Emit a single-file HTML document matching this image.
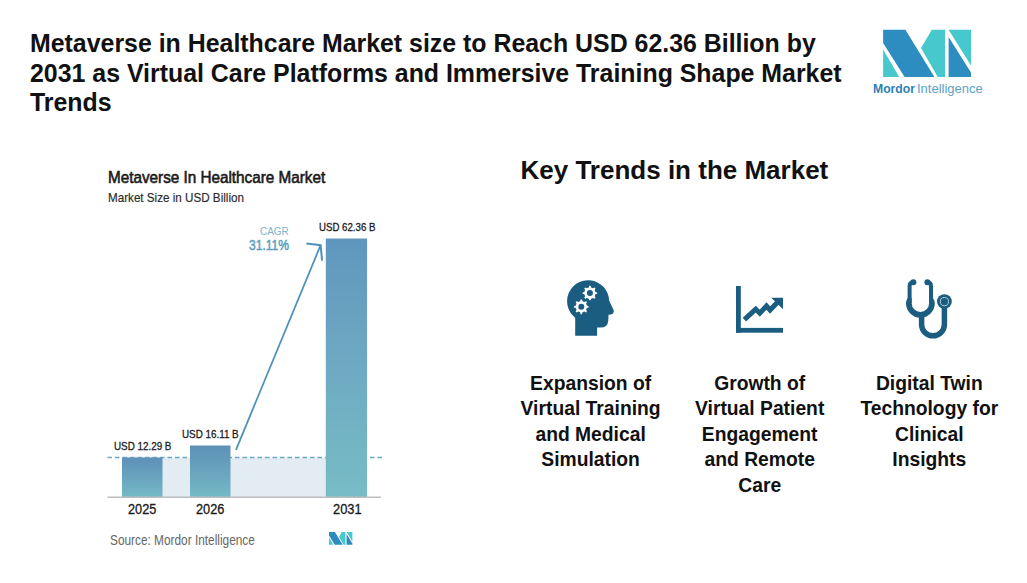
<!DOCTYPE html>
<html><head><meta charset="utf-8">
<style>
html,body{margin:0;padding:0;background:#fff;}
body{width:1027px;height:583px;position:relative;overflow:hidden;font-family:"Liberation Sans",sans-serif;color:#111;}
.abs{position:absolute;white-space:nowrap;}
#title{left:30px;top:29px;font-size:24.9px;font-weight:bold;line-height:29.6px;color:#111;}
#kt{left:520.5px;top:154.5px;font-size:26px;font-weight:bold;line-height:30px;color:#111;}
.trend{position:absolute;top:371px;width:200px;text-align:center;font-size:19.3px;font-weight:bold;line-height:25.4px;color:#111;}
.ct{font-weight:normal;font-size:16.5px;color:#1a1a1a;transform-origin:0 0;-webkit-text-stroke:0.6px #1a1a1a;}
.cs{font-size:13px;color:#2a2a2a;transform-origin:0 0;-webkit-text-stroke:0.15px #2a2a2a;}
.lbl{font-size:11.5px;color:#1a1a1a;transform-origin:0 0;-webkit-text-stroke:0.3px #1a1a1a;}
.yr{font-size:14px;color:#1a1a1a;transform-origin:0 0;-webkit-text-stroke:0.3px #1a1a1a;}
svg.abs{left:0;top:0;}
</style></head>
<body>
<div id="title" class="abs">Metaverse in Healthcare Market size to Reach USD 62.36 Billion by<br>2031 as Virtual Care Platforms and Immersive Training Shape Market<br>Trends</div>

<!-- logo -->
<svg class="abs" width="1027" height="583" viewBox="0 0 1027 583">
  <polygon points="883.1,29.7 905.4,29.7 934.4,77 904.6,77 883.1,43.1" fill="#2d8cc0"/>
  <polygon points="883.1,49.6 883.1,77 899.2,77" fill="#46c8cc"/>
  <polygon points="931.8,29.7 945,29.7 945,77 937.8,77 921,48" fill="#46c8cc"/>
  <polygon points="948.6,29.7 971,29.7 971,65.6" fill="#46c8cc"/>
  <polygon points="948.6,37 971,72.6 971,77 948.6,77" fill="#2d8cc0"/>
</svg>
<div class="abs" style="left:873px;top:82px;font-size:13px;line-height:14px;"><span style="font-weight:bold;color:#2f7fb5;font-size:12.2px">Mordor</span><span style="color:#5aa3c9;margin-left:2px;">Intelligence</span></div>

<!-- chart -->
<div class="abs ct" style="left:108px;top:168px;line-height:18px;transform:scaleX(0.925)">Metaverse In Healthcare Market</div>
<div class="abs cs" style="left:108px;top:190.5px;line-height:14px;transform:scaleX(0.896)">Market Size in USD Billion</div>

<svg class="abs" width="1027" height="583" viewBox="0 0 1027 583">
  <defs>
    <linearGradient id="g1" x1="0" y1="0" x2="0" y2="1">
      <stop offset="0" stop-color="#5d90b8"/>
      <stop offset="1" stop-color="#74b9c5"/>
    </linearGradient>
    <linearGradient id="g3" x1="0" y1="0" x2="0" y2="1">
      <stop offset="0" stop-color="#6096bd"/>
      <stop offset="0.5" stop-color="#6eaac3"/>
      <stop offset="1" stop-color="#77bcc5"/>
    </linearGradient>
  </defs>
  <rect x="122" y="457.5" width="204" height="39.5" fill="#e3ebf3"/>
  <line x1="107.5" y1="457.5" x2="383" y2="457.5" stroke="#6aaac4" stroke-width="1.5" stroke-dasharray="4.5 3"/>
  <rect x="122" y="457.5" width="40.5" height="39.5" fill="url(#g1)"/>
  <rect x="190" y="445.5" width="40.5" height="51.5" fill="url(#g1)"/>
  <rect x="325.8" y="238.5" width="41.3" height="258.5" fill="url(#g3)"/>
  <line x1="107.5" y1="497.3" x2="381" y2="497.3" stroke="#bdbdbd" stroke-width="1.5"/>
  <line x1="236" y1="449.8" x2="320.6" y2="245.2" stroke="#4f92ba" stroke-width="1.8"/>
  <polyline points="306.3,243.6 320.6,245.2 322.1,260.6" fill="none" stroke="#4f92ba" stroke-width="2"/>
  <!-- small logo -->
  <g transform="translate(329,531.9) scale(0.266,0.27)">
    <polygon points="0,0 22.3,0 51.3,47.3 21.5,47.3 0,13.4" fill="#2e8bc0"/>
    <polygon points="0,19.9 0,47.3 16.1,47.3" fill="#46c8cc"/>
    <polygon points="48.7,0 61.9,0 61.9,47.3 54.7,47.3 37.9,18.3" fill="#46c8cc"/>
    <polygon points="66.1,0 87.9,0 87.9,35.4" fill="#46c8cc"/>
    <polygon points="66.1,7.5 87.9,43.2 87.9,47.3 66.1,47.3" fill="#2e8bc0"/>
  </g>
</svg>
<div class="abs lbl" style="left:114px;top:440px;line-height:13px;transform:scaleX(0.855)">USD 12.29 B</div>
<div class="abs lbl" style="left:182px;top:428px;line-height:13px;transform:scaleX(0.855)">USD 16.11 B</div>
<div class="abs lbl" style="left:318.5px;top:221px;line-height:13px;transform:scaleX(0.84)">USD 62.36 B</div>
<div class="abs" style="left:259.6px;top:224.5px;font-size:10.5px;line-height:13px;color:#7db4cc;transform-origin:0 0;transform:scaleX(0.95)">CAGR</div>
<div class="abs" style="left:248.7px;top:237px;font-size:14px;line-height:16px;color:#5a9ec0;-webkit-text-stroke:0.5px #5a9ec0;transform-origin:0 0;transform:scaleX(0.86)">31.11%</div>
<div class="abs yr" style="left:128px;top:501px;line-height:16px;transform:scaleX(0.91)">2025</div>
<div class="abs yr" style="left:196px;top:501px;line-height:16px;transform:scaleX(0.91)">2026</div>
<div class="abs yr" style="left:332.6px;top:501px;line-height:16px;transform:scaleX(0.92)">2031</div>
<div class="abs" style="left:110px;top:531.5px;font-size:14px;line-height:16px;color:#666;transform-origin:0 0;transform:scaleX(0.846)">Source: Mordor Intelligence</div>

<!-- key trends -->
<div id="kt" class="abs">Key Trends in the Market</div>

<svg class="abs" width="1027" height="583" viewBox="0 0 1027 583">
  <!-- head -->
  <path fill="#1a5d80" d="M575.2,335.8 L575.2,317.8 A21,21 0 1 1 609.1,300.5 L613.7,310.2 Q614.3,313.8 610.9,314.4 L608.5,314.8 L608.3,320.5 Q607.8,327.6 600.4,327.6 L597.1,327.6 L597.1,335.8 Z"/>
  <path fill="#fff" d="M595.47,291.88 L597.17,292.47 L597.17,293.73 L595.47,294.32 L594.70,296.17 L595.49,297.80 L594.60,298.69 L592.97,297.90 L591.12,298.67 L590.53,300.37 L589.27,300.37 L588.68,298.67 L586.83,297.90 L585.20,298.69 L584.31,297.80 L585.10,296.17 L584.33,294.32 L582.63,293.73 L582.63,292.47 L584.33,291.88 L585.10,290.03 L584.31,288.40 L585.20,287.51 L586.83,288.30 L588.68,287.53 L589.27,285.83 L590.53,285.83 L591.12,287.53 L592.97,288.30 L594.60,287.51 L595.49,288.40 L594.70,290.03Z"/>
<path fill="#fff" d="M586.87,305.58 L588.67,306.16 L588.67,307.44 L586.87,308.02 L586.10,309.87 L586.96,311.56 L586.06,312.46 L584.37,311.60 L582.52,312.37 L581.94,314.17 L580.66,314.17 L580.08,312.37 L578.23,311.60 L576.54,312.46 L575.64,311.56 L576.50,309.87 L575.73,308.02 L573.93,307.44 L573.93,306.16 L575.73,305.58 L576.50,303.73 L575.64,302.04 L576.54,301.14 L578.23,302.00 L580.08,301.23 L580.66,299.43 L581.94,299.43 L582.52,301.23 L584.37,302.00 L586.06,301.14 L586.96,302.04 L586.10,303.73Z"/>

  <circle cx="589.9" cy="293.1" r="3" fill="#1a5d80"/>
  <circle cx="581.3" cy="306.8" r="3" fill="#1a5d80"/>
  <!-- chart icon -->
  <g fill="#1a5d80">
    <rect x="736" y="286" width="4.8" height="46.7"/>
    <rect x="736" y="327.9" width="47" height="4.8"/>
    <polygon points="771.2,297.7 783,297.7 783,309.3"/>
  </g>
  <polyline points="744.4,319.6 755.7,309.1 759.8,313.2 766.5,306 770.1,310.1 778.5,301.3" fill="none" stroke="#1a5d80" stroke-width="5" stroke-linejoin="miter" stroke-miterlimit="10"/>
  <!-- stethoscope -->
  <g fill="none" stroke="#1a5d80">
    <path d="M913.4,282.2 Q909.6,282.2 909.6,286 L909.6,303" stroke-width="4"/>
    <path d="M927.4,282.2 Q931,282.2 931,286 L931,303" stroke-width="4"/>
    <path d="M921.6,315 L921.6,324.45 A11.4,11.4 0 0 0 944.4,324.45 L944.4,305" stroke-width="5.5"/>
  </g>
  <g fill="#1a5d80">
    <circle cx="913.4" cy="282.2" r="3"/>
    <circle cx="927.4" cy="282.2" r="3"/>
    <path d="M907.6,298 Q906,301 906,303.2 A14.4,14.4 0 0 0 934.8,303.2 Q934.8,301 933,298 L929,298 L929.1,303.2 A8.7,8.7 0 0 1 911.7,303.2 L911.6,298 Z"/>
    <circle cx="944.4" cy="301.6" r="7.4"/>
  </g>
  <circle cx="944.4" cy="301.6" r="4.1" fill="none" stroke="#d8e6ee" stroke-width="0.8"/>
</svg>

<div class="trend" style="left:490.6px">Expansion of<br>Virtual Training<br>and Medical<br>Simulation</div>
<div class="trend" style="left:659.7px">Growth of<br>Virtual Patient<br>Engagement<br>and Remote<br>Care</div>
<div class="trend" style="left:829.3px">Digital Twin<br>Technology for<br>Clinical<br>Insights</div>
</body></html>
